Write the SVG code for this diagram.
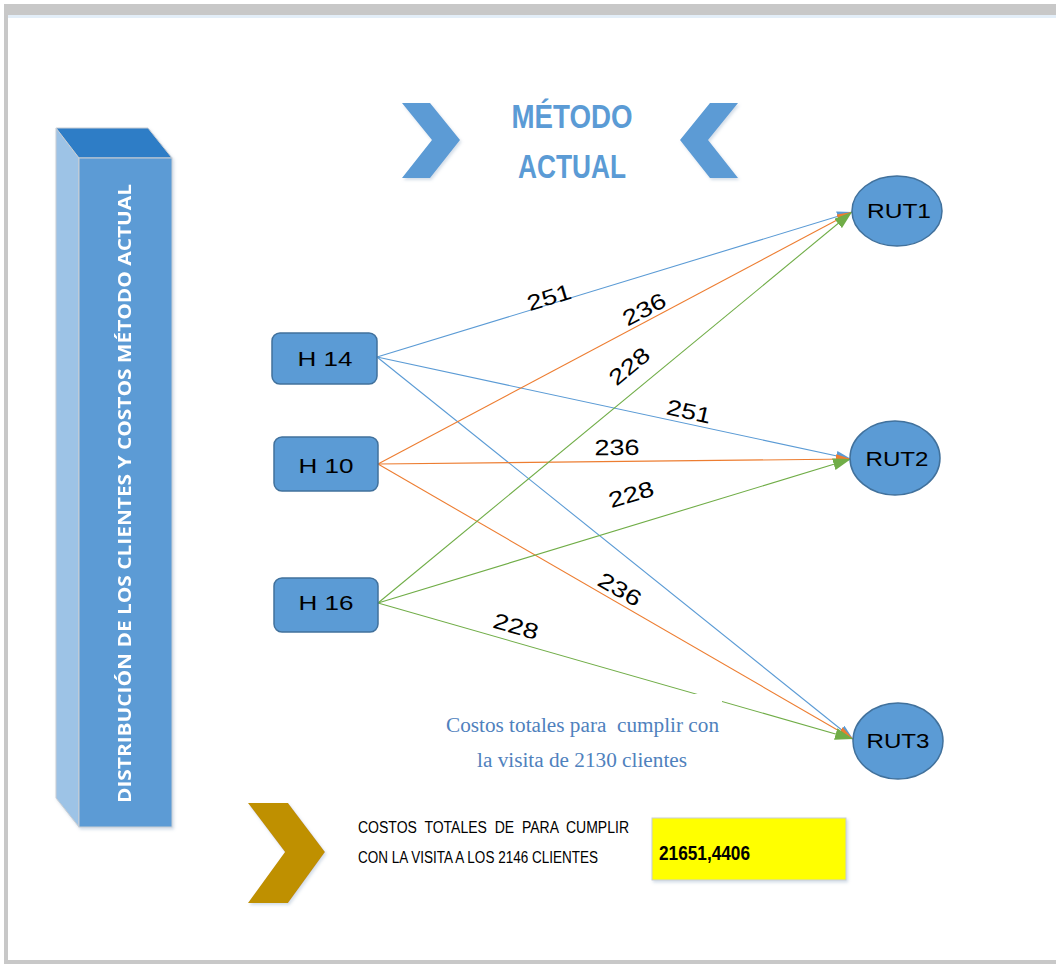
<svg xmlns="http://www.w3.org/2000/svg" width="1056" height="964" viewBox="0 0 1056 964">
  <defs>
    <style>
      .node { fill: #5B9BD5; stroke: #41719C; stroke-width: 1.5; }
      .ntext { font-family: "Liberation Sans", Arial, sans-serif; font-size: 20px; fill: #000; text-anchor: middle; }
      .lbl { font-family: "Liberation Sans", Arial, sans-serif; font-size: 22px; fill: #000; text-anchor: middle; }
      .edge { fill: none; stroke-width: 1.1; }
      .blue { stroke: #5B9BD5; }
      .orange { stroke: #ED7D31; }
      .green { stroke: #70AD47; }
      .chev { fill: #5B9BD5; }
      .title { font-family: "Liberation Sans", Arial, sans-serif; font-weight: bold; font-size: 34px; fill: #5B9BD5; text-anchor: middle; }
      .note { font-family: "Liberation Serif", "Times New Roman", serif; font-size: 20px; fill: #4F81BD; }
      .caps { font-family: "Liberation Sans", Arial, sans-serif; font-size: 16px; fill: #000; }
    </style>
    <marker id="arrBlue" markerUnits="userSpaceOnUse" markerWidth="15" markerHeight="10" refX="15" refY="5" orient="auto">
      <path d="M0,0 L15,5 L0,10 z" fill="#5B9BD5"/>
    </marker>
    <marker id="arrOrange" markerUnits="userSpaceOnUse" markerWidth="15" markerHeight="10" refX="15" refY="5" orient="auto">
      <path d="M0,0 L15,5 L0,10 z" fill="#ED7D31"/>
    </marker>
    <marker id="arrGreen" markerUnits="userSpaceOnUse" markerWidth="18" markerHeight="12" refX="18" refY="6" orient="auto">
      <path d="M0,0 L18,6 L0,12 z" fill="#70AD47"/>
    </marker>
    <filter id="soft" x="-10%" y="-10%" width="130%" height="130%">
      <feDropShadow dx="1.5" dy="2" stdDeviation="1.5" flood-color="#9DB4CC" flood-opacity="0.45"/>
    </filter>
  </defs>

  <!-- page frame -->
  <rect x="0" y="0" width="1056" height="964" fill="#FFFFFF"/>
  <rect x="4" y="4" width="1060" height="960" fill="#C8C8C8"/>
  <rect x="8" y="15" width="1060" height="945" fill="#FFFFFF"/>
  <rect x="8" y="15" width="1060" height="3" fill="#E3EEF8"/>

  <!-- 3D column with vertical caption -->
  <g id="side-column" filter="url(#soft)">
    <polygon points="56,128 79,158 79,827 56,798" fill="#9DC3E6" stroke="#C9CED4" stroke-width="1"/>
    <polygon points="56,128 148,128 172,158 79,158" fill="#2E7DC6" stroke="#C9CED4" stroke-width="1"/>
    <rect x="79" y="158" width="93" height="669" fill="#5B9BD5" stroke="#C9CED4" stroke-width="1"/>
    <text transform="translate(131,803) rotate(-90)" font-family="'Open Sans', 'Liberation Sans', sans-serif" font-weight="bold" font-size="18" fill="#FFFFFF" textLength="619" lengthAdjust="spacingAndGlyphs">DISTRIBUCIÓN DE LOS CLIENTES Y COSTOS MÉTODO ACTUAL</text>
  </g>

  <!-- title with chevrons -->
  <g id="title">
    <polygon class="chev" filter="url(#soft)" points="402,103 430,103 460,140 430,178 402,178 432,140"/>
    <polygon class="chev" filter="url(#soft)" points="738,103 710,103 680,140 710,178 738,178 708,140"/>
    <text class="title" x="572" y="128" textLength="121" lengthAdjust="spacingAndGlyphs">MÉTODO</text>
    <text class="title" x="572" y="178" textLength="108" lengthAdjust="spacingAndGlyphs">ACTUAL</text>
  </g>

  <!-- connectors with cost labels -->
  <g id="connectors">
    <line class="edge blue" x1="377" y1="357" x2="852" y2="212" marker-end="url(#arrBlue)"/>
    <line class="edge blue" x1="377" y1="357" x2="851" y2="459" marker-end="url(#arrBlue)"/>
    <line class="edge blue" x1="377" y1="357" x2="853" y2="739" marker-end="url(#arrBlue)"/>
    <line class="edge orange" x1="378" y1="464" x2="852" y2="212" marker-end="url(#arrOrange)"/>
    <line class="edge orange" x1="378" y1="464" x2="851" y2="459" marker-end="url(#arrOrange)"/>
    <line class="edge orange" x1="378" y1="464" x2="853" y2="739" marker-end="url(#arrOrange)"/>
    <line class="edge green" x1="378" y1="603" x2="852" y2="212" marker-end="url(#arrGreen)"/>
    <line class="edge green" x1="378" y1="603" x2="851" y2="459" marker-end="url(#arrGreen)"/>
    <line class="edge green" x1="378" y1="603" x2="853" y2="739" marker-end="url(#arrGreen)"/>

    <text class="lbl" transform="translate(549,297) rotate(-17)" y="8" textLength="45" lengthAdjust="spacingAndGlyphs">251</text>
    <text class="lbl" transform="translate(644,309) rotate(-28)" y="8" textLength="46" lengthAdjust="spacingAndGlyphs">236</text>
    <text class="lbl" transform="translate(629,366) rotate(-39.6)" y="8" textLength="46" lengthAdjust="spacingAndGlyphs">228</text>
    <text class="lbl" transform="translate(689,411) rotate(12.3)" y="8" textLength="45" lengthAdjust="spacingAndGlyphs">251</text>
    <text class="lbl" transform="translate(617,447) rotate(-0.5)" y="8" textLength="45" lengthAdjust="spacingAndGlyphs">236</text>
    <text class="lbl" transform="translate(631,494) rotate(-17)" y="8" textLength="46" lengthAdjust="spacingAndGlyphs">228</text>
    <text class="lbl" transform="translate(620,589) rotate(30)" y="8" textLength="46" lengthAdjust="spacingAndGlyphs">236</text>
    <text class="lbl" transform="translate(516,626) rotate(16)" y="8" textLength="46" lengthAdjust="spacingAndGlyphs">228</text>
  </g>

  <!-- source nodes -->
  <g id="node-h14">
    <rect class="node" x="272" y="333" width="105" height="51" rx="8"/>
    <text class="ntext" x="325" y="366" textLength="55" lengthAdjust="spacingAndGlyphs">H 14</text>
  </g>
  <g id="node-h10">
    <rect class="node" x="274" y="437" width="104" height="54" rx="8"/>
    <text class="ntext" x="326" y="473" textLength="55" lengthAdjust="spacingAndGlyphs">H 10</text>
  </g>
  <g id="node-h16">
    <rect class="node" x="274" y="578" width="104" height="54" rx="8"/>
    <text class="ntext" x="326" y="610" textLength="55" lengthAdjust="spacingAndGlyphs">H 16</text>
  </g>

  <!-- route nodes -->
  <g id="node-rut1">
    <ellipse class="node" cx="897" cy="211" rx="45" ry="35"/>
    <text class="ntext" x="899" y="218" font-size="21" textLength="64" lengthAdjust="spacingAndGlyphs">RUT1</text>
  </g>
  <g id="node-rut2">
    <ellipse class="node" cx="895" cy="458" rx="45" ry="37"/>
    <text class="ntext" x="897" y="466" font-size="21" textLength="63" lengthAdjust="spacingAndGlyphs">RUT2</text>
  </g>
  <g id="node-rut3">
    <ellipse class="node" cx="898" cy="741" rx="45" ry="38"/>
    <text class="ntext" x="898" y="748" font-size="21" textLength="63" lengthAdjust="spacingAndGlyphs">RUT3</text>
  </g>

  <!-- note on total costs -->
  <g id="note-costs">
    <rect x="440" y="694" width="282" height="84" fill="#FFFFFF"/>
    <text class="note" x="446" y="732" xml:space="preserve" textLength="273" lengthAdjust="spacingAndGlyphs">Costos totales para  cumplir con</text>
    <text class="note" x="477" y="767" textLength="210" lengthAdjust="spacingAndGlyphs">la visita de 2130 clientes</text>
  </g>

  <!-- total summary -->
  <g id="summary">
    <polygon filter="url(#soft)" points="248,803 288,803 325,852 288,903 248,903 285,852" fill="#BF9000"/>
    <text class="caps" x="358" y="833" xml:space="preserve" textLength="271" lengthAdjust="spacingAndGlyphs">COSTOS  TOTALES  DE  PARA  CUMPLIR</text>
    <text class="caps" x="358" y="863" textLength="240" lengthAdjust="spacingAndGlyphs">CON LA VISITA A LOS 2146 CLIENTES</text>
    <rect x="652" y="818" width="194" height="62" fill="#FFFF00" stroke="#C9CED4" stroke-width="1" filter="url(#soft)"/>
    <text x="659" y="860" font-family="'Liberation Sans', Arial, sans-serif" font-weight="bold" font-size="20" fill="#000" textLength="91" lengthAdjust="spacingAndGlyphs">21651,4406</text>
  </g>
</svg>
